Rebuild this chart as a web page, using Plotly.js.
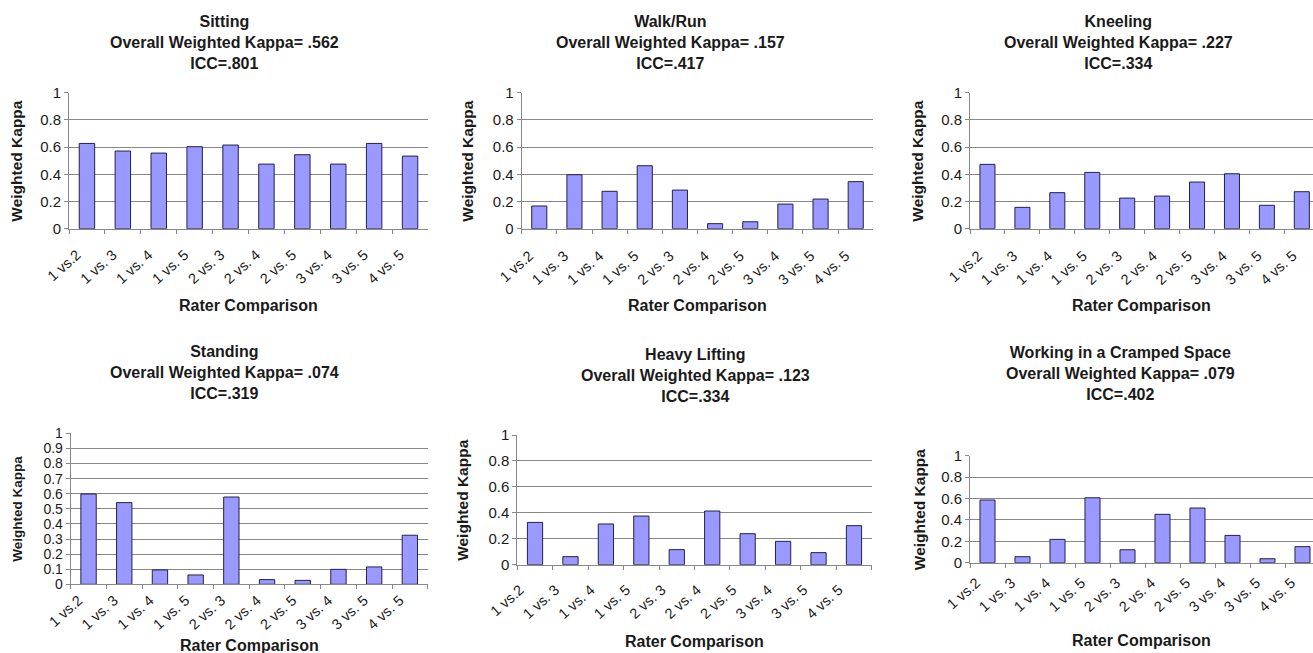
<!DOCTYPE html>
<html>
<head>
<meta charset="utf-8">
<script src="https://cdn.plot.ly/plotly-3.0.1.min.js"></script>
<style>html,body{margin:0;padding:0;background:#fff;overflow:hidden}#chart{width:1313px;height:653px}</style>
</head>
<body>
<div id="chart"></div>
<script>
const categories = ["1 vs.2","1 vs. 3","1 vs. 4","1 vs. 5","2 vs. 3","2 vs. 4","2 vs. 5","3 vs. 4","3 vs. 5","4 vs. 5"];
const sitting   = [0.627,0.571,0.556,0.603,0.615,0.475,0.544,0.475,0.627,0.534];
const walkRun   = [0.167,0.397,0.275,0.463,0.284,0.037,0.051,0.181,0.218,0.346];
const kneeling  = [0.473,0.157,0.265,0.414,0.225,0.240,0.343,0.404,0.172,0.272];
const standing  = [0.598,0.541,0.095,0.062,0.578,0.031,0.026,0.099,0.115,0.325];
const heavyLift = [0.326,0.062,0.314,0.375,0.116,0.414,0.239,0.180,0.093,0.301];
const cramped   = [0.586,0.056,0.218,0.607,0.121,0.452,0.511,0.255,0.037,0.150];

const panelTitles = [
  "Sitting<br>Overall Weighted Kappa= .562<br>ICC=.801",
  "Walk/Run<br>Overall Weighted Kappa= .157<br>ICC=.417",
  "Kneeling<br>Overall Weighted Kappa= .227<br>ICC=.334",
  "Standing<br>Overall Weighted Kappa= .074<br>ICC=.319",
  "Heavy Lifting<br>Overall Weighted Kappa= .123<br>ICC=.334",
  "Working in a Cramped Space<br>Overall Weighted Kappa= .079<br>ICC=.402"
];
const series = [sitting, walkRun, kneeling, standing, heavyLift, cramped];
const yTitle = "Weighted Kappa";
const xTitle = "Rater Comparison";

const W = 1313, H = 653;
// plot boxes in pixels [left, right, top, bottom]
const boxes = [
  [69, 428, 92.7, 228.7],
  [521.7, 873.3, 92.7, 228.7],
  [970, 1313, 92.7, 228.7],
  [70.7, 427.7, 433.3, 584.3],
  [517.3, 871.7, 435, 564.7],
  [970, 1313, 455.7, 562.7]
];
const xRanges = [[-0.5,9.5],[-0.5,9.5],[-0.5,9.32],[-0.5,9.5],[-0.5,9.5],[-0.5,9.3]];
const titlePos = [ // center x, middle y of title block
  [225, 42.5], [670, 42.5], [1118, 42.5], [225, 372.5], [695, 375.5], [1120, 373.5]
];
const xTitleY = [305, 305, 305, 645, 641, 640];
const yTitleX = [17, 468, 918, 18, 463, 919];
const yTitleSize = [15.5, 15.5, 15.5, 13.5, 15.5, 15.5];
const labelStandoff = [11, 12, 12, 1, 10, 5];
const labelShift = [-10, -10, -9, -10, -15, -11];

const font = "Liberation Sans, Arial, sans-serif";
const textColor = "#1a1a1a";
const data = [];
const layout = {
  width: W, height: H,
  margin: {l:0, r:0, t:0, b:0},
  paper_bgcolor: "#fff", plot_bgcolor: "#fff",
  showlegend: false,
  bargap: 0.57,
  font: {family: font, color: textColor},
  annotations: []
};

series.forEach((vals, i) => {
  const n = i + 1;
  const xa = n === 1 ? "x" : "x" + n;
  const ya = n === 1 ? "y" : "y" + n;
  data.push({
    type: "bar", x: categories, y: vals, xaxis: xa, yaxis: ya,
    marker: {color: "#9999ff", line: {color: "#22224a", width: 1}},
    hoverinfo: "x+y"
  });
  const b = boxes[i];
  const dtick = i === 3 ? 0.1 : 0.2;
  layout["xaxis" + (n === 1 ? "" : n)] = {
    domain: [b[0]/W, b[1]/W],
    anchor: ya,
    type: "category",
    range: xRanges[i],
    tickson: "boundaries",
    ticks: "outside", ticklen: 4, tickcolor: "#888",
    showgrid: false, zeroline: false,
    showline: true, linecolor: "#888", linewidth: 1,
    tickangle: -42,
    ticklabelstandoff: labelStandoff[i],
    ticklabelshift: labelShift[i],
    tickfont: {family: font, size: 14.5, color: textColor},
    fixedrange: true
  };
  layout["yaxis" + (n === 1 ? "" : n)] = {
    domain: [1 - b[3]/H, 1 - b[2]/H],
    anchor: xa,
    range: [0, 1],
    dtick: dtick, tick0: 0,
    tickformat: ".1~f",
    ticks: "outside", ticklen: 4, tickcolor: "#888",
    showgrid: true, gridcolor: "#878787", gridwidth: 1,
    zeroline: false,
    showline: true, linecolor: "#888", linewidth: 1,
    tickfont: {family: font, size: i === 3 ? 14 : 15, color: textColor},
    fixedrange: true
  };
  layout.annotations.push({
    xref: "paper", yref: "paper",
    x: titlePos[i][0]/W, y: 1 - titlePos[i][1]/H,
    xanchor: "center", yanchor: "middle",
    text: "<b>" + panelTitles[i].split("<br>").join("</b><br><b>") + "</b>",
    showarrow: false, align: "center",
    font: {family: font, size: 16, color: textColor}
  });
  layout.annotations.push({
    xref: "paper", yref: "paper",
    x: ((b[0] + b[1]) / 2) / W, y: 1 - xTitleY[i]/H,
    xanchor: "center", yanchor: "middle",
    text: "<b>" + xTitle + "</b>",
    showarrow: false,
    font: {family: font, size: 16, color: textColor}
  });
  layout.annotations.push({
    xref: "paper", yref: "paper",
    x: yTitleX[i]/W, y: 1 - ((b[2] + b[3]) / 2)/H,
    xanchor: "center", yanchor: "middle",
    text: "<b>" + yTitle + "</b>",
    textangle: -90,
    showarrow: false,
    font: {family: font, size: yTitleSize[i], color: textColor}
  });
});

Plotly.newPlot("chart", data, layout, {staticPlot: true, displayModeBar: false});
</script>
</body>
</html>
